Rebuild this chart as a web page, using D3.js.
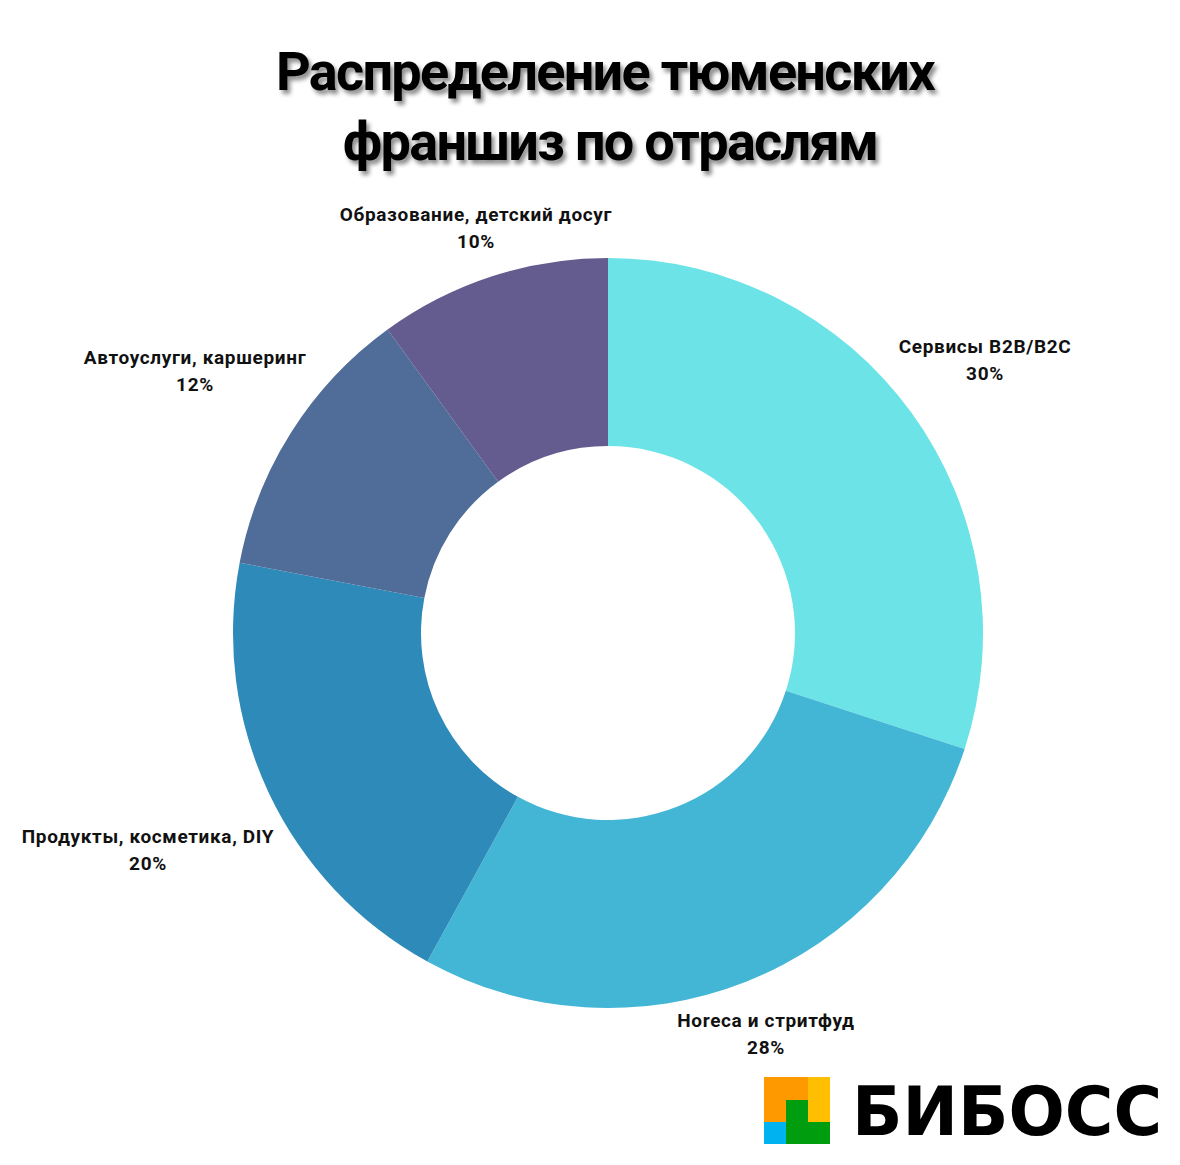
<!DOCTYPE html>
<html><head><meta charset="utf-8">
<script src="https://cdn.jsdelivr.net/npm/d3@7"></script>
<style>body{margin:0;background:#fff}</style></head>
<body><svg id="c" width="1180" height="1165"></svg>
<script>
const categories=["Сервисы B2B/B2C","Horeca и стритфуд","Продукты, косметика, DIY","Автоуслуги, каршеринг","Образование, детский досуг"];
const values=[30,28,20,12,10];
const colors=["#6ce3e6","#43b6d6","#2e8bb9","#4f6d98","#645b8f"];
const labelPos=[[985,353],[766,1027],[148,843],[195,364],[476,221]];
const svg=d3.select("#c");
const defs=svg.append("defs");
const f=defs.append("filter").attr("id","sh").attr("x","-10%").attr("y","-10%").attr("width","120%").attr("height","130%");
f.append("feDropShadow").attr("dx",3).attr("dy",4).attr("stdDeviation",2).attr("flood-color","#000").attr("flood-opacity",0.45);
const title=svg.append("g").attr("filter","url(#sh)").attr("font-family","Roboto").attr("font-weight","bold").attr("font-size",54).attr("text-anchor","middle").attr("letter-spacing","-1.7");
title.append("text").attr("x",605).attr("y",90).text("Распределение тюменских");
title.append("text").attr("x",610).attr("y",160).text("франшиз по отраслям");
const cx=608,cy=633;
const pie=d3.pie().sort(null).value(d=>d)(values);
const arc=d3.arc().innerRadius(187).outerRadius(375);
const g=svg.append("g").attr("transform",`translate(${cx},${cy})`);
g.selectAll("path").data(pie).join("path").attr("d",arc).attr("fill",(d,i)=>colors[i]);
const lg=svg.append("g").attr("font-family","Roboto").attr("font-weight","bold").attr("font-size",19).attr("letter-spacing","0.65").attr("text-anchor","middle").attr("fill","#111");
categories.forEach((c,i)=>{
 lg.append("text").attr("x",labelPos[i][0]).attr("y",labelPos[i][1]).text(c);
 lg.append("text").attr("x",labelPos[i][0]).attr("y",labelPos[i][1]+27).text(values[i]+"%");
});
const L=svg.append("g").attr("transform","translate(764,1077)");
L.append("rect").attr("width",66).attr("height",67).attr("fill","#ff9900");
L.append("rect").attr("x",44).attr("width",22).attr("height",45).attr("fill","#ffbf00");
L.append("rect").attr("x",22).attr("y",23).attr("width",22).attr("height",44).attr("fill","#009e0f");
L.append("rect").attr("x",44).attr("y",45).attr("width",22).attr("height",22).attr("fill","#009e0f");
L.append("rect").attr("y",45).attr("width",22).attr("height",22).attr("fill","#00b3f0");
svg.append("text").attr("x",852).attr("y",1135).attr("font-family","DejaVu Sans").attr("font-weight","bold").attr("font-size",68).attr("textLength",310).attr("lengthAdjust","spacingAndGlyphs").attr("fill","#000").text("БИБОСС");
</script></body></html>
